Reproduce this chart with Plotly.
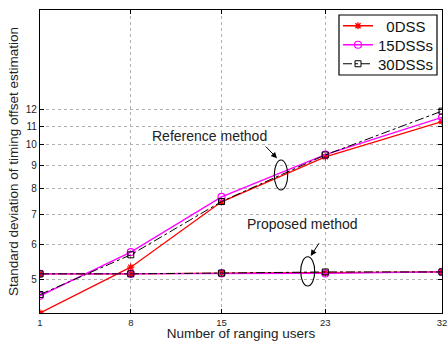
import numpy as np
import plotly.graph_objects as go

users = [1, 8, 15, 23, 32]

ref_0dss = [4.22, 5.34, 7.47, 9.41, 11.28]
ref_15dss = [4.61, 5.77, 7.66, 9.52, 11.52]
ref_30dss = [4.64, 5.69, 7.48, 9.50, 11.90]

prop_0dss = [5.16, 5.16, 5.18, 5.19, 5.21]
prop_15dss = [5.16, 5.16, 5.17, 5.17, 5.21]
prop_30dss = [5.16, 5.16, 5.18, 5.21, 5.21]

y_ticks = [5, 6, 7, 8, 9, 10, 11, 12]
x_ticks = [1, 8, 15, 23, 32]

series = [
    ("\u00a0\u00a00DSS", "legend", ref_0dss, prop_0dss,
     dict(color="#ff0000", width=1.3, dash="solid"),
     dict(symbol="asterisk-open", size=6, color="#ff0000", line=dict(color="#ff0000", width=1.3))),
    ("15DSSs", "legend2", ref_15dss, prop_15dss,
     dict(color="#ff00ff", width=1.3, dash="solid"),
     dict(symbol="circle-open", size=7, color="#ff00ff", line=dict(color="#ff00ff", width=1.2))),
    ("30DSSs", "legend3", ref_30dss, prop_30dss,
     dict(color="#000000", width=1, dash="dashdot"),
     dict(symbol="square-open", size=6, color="#000000", line=dict(color="#000000", width=1))),
]

fig = go.Figure()
for name, lg, ref, prop, line, marker in series:
    fig.add_trace(go.Scatter(x=users, y=ref, name=name, mode="lines+markers", legend=lg,
                             line=line, marker=marker, showlegend=True))
for name, lg, ref, prop, line, marker in series:
    fig.add_trace(go.Scatter(x=users, y=prop, name=name, mode="lines+markers", legend=lg,
                             line=line, marker=marker, showlegend=False))

font_fam = "Liberation Sans, Arial, Helvetica, sans-serif"

def legend_row(center_px):
    return dict(x=(338 - 40) / 402, y=(313 - center_px) / 303, xanchor="left", yanchor="middle",
                borderwidth=0, bgcolor="rgba(0,0,0,0)",
                font=dict(size=15, color="#111111"), tracegroupgap=0)

fig.update_layout(
    width=448, height=341,
    margin=dict(l=40, r=6, t=10, b=28),
    paper_bgcolor="white", plot_bgcolor="white",
    font=dict(family=font_fam, color="#222222", size=10),
    legend=legend_row(26),
    legend2=legend_row(45),
    legend3=legend_row(64),
    xaxis=dict(range=[1, 32], tickvals=x_ticks, ticktext=[str(v) for v in x_ticks],
               showgrid=True, gridcolor="#b0b0b0", griddash="dot", gridwidth=1,
               showline=True, linecolor="black", linewidth=1.2, mirror="ticks",
               ticks="inside", ticklen=4, tickcolor="black", zeroline=False,
               tickfont=dict(size=9.5), automargin=False,
               title=dict(text="Number of ranging users", font=dict(size=13.5), standoff=5)),
    yaxis=dict(type="log", range=[np.log10(4.22), np.log10(20)],
               tickvals=y_ticks, ticktext=[str(v) for v in y_ticks],
               showgrid=True, gridcolor="#b0b0b0", griddash="dot", gridwidth=1,
               showline=True, linecolor="black", linewidth=1.2, mirror="ticks",
               ticks="inside", ticklen=4, tickcolor="black", zeroline=False,
               tickfont=dict(size=10), automargin=False,
               title=dict(text="Standard deviation of timing offset estimation",
                          font=dict(size=13.5), standoff=4)),
)

# Legend frame
fig.add_shape(type="rect", xref="paper", yref="paper",
              x0=(339 - 40) / 402, x1=(437 - 40) / 402,
              y0=(313 - 75) / 303, y1=(313 - 15) / 303,
              line=dict(color="black", width=1.2), fillcolor="white", layer="above")

# Annotations
fig.add_annotation(x=0.4214, y=0.5842, xref="paper", yref="paper", text="Reference method",
                   showarrow=False, font=dict(size=14, color="#222222"))
fig.add_annotation(x=0.5896, y=0.5106, xref="paper", yref="paper", text="",
                   showarrow=True, ax=-12.7, ay=-13.3, arrowhead=2, arrowsize=1.2,
                   arrowwidth=1, arrowcolor="black")
fig.add_annotation(x=0.7948, y=0.2607, xref="paper", yref="paper", text="Proposed method",
                   showarrow=False, font=dict(size=14, color="#222222"))
fig.add_annotation(x=0.6734, y=0.1881, xref="paper", yref="paper", text="",
                   showarrow=True, ax=9.3, ay=-14.3, arrowhead=2, arrowsize=1.2,
                   arrowwidth=1, arrowcolor="black")

# Ellipses
fig.add_shape(type="circle", xref="paper", yref="paper",
              x0=(274.3 - 40) / 402, x1=(287.7 - 40) / 402,
              y0=(313 - 190) / 303, y1=(313 - 160) / 303,
              line=dict(color="black", width=1.1))
fig.add_shape(type="circle", xref="paper", yref="paper",
              x0=(300.7 - 40) / 402, x1=(314.7 - 40) / 402,
              y0=(313 - 286) / 303, y1=(313 - 256.7) / 303,
              line=dict(color="black", width=1.1))

fig.write_html("out.html", config={"displayModeBar": False},
               post_script="document.body.style.margin='0';")
